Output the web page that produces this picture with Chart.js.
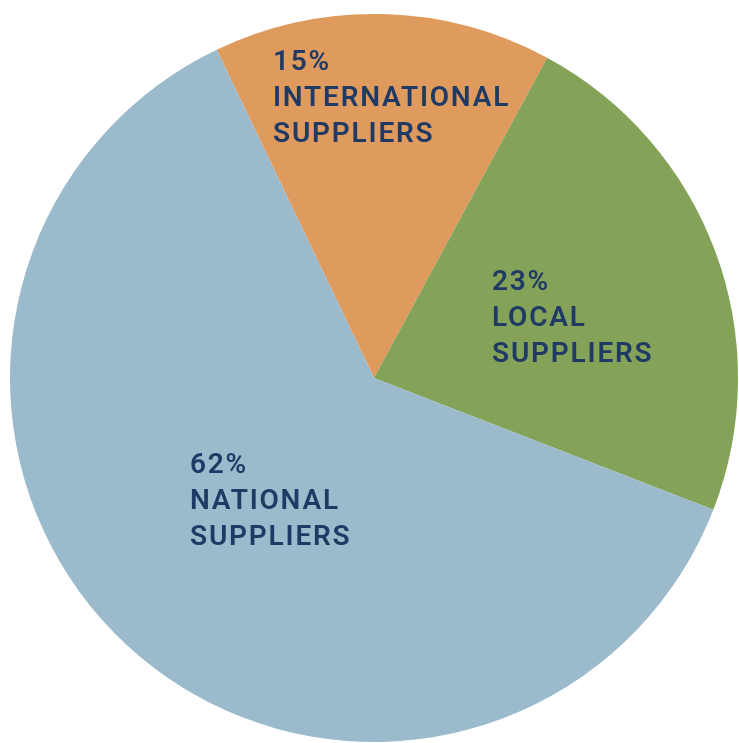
<!DOCTYPE html>
<html>
<head>
<meta charset="utf-8">
<script src="https://cdn.jsdelivr.net/npm/chart.js@4"></script>
<style>
    html, body {
        margin: 0;
        padding: 0;
        background: #ffffff;
    }
    #wrap {
        width: 739px;
        height: 743px;
        position: relative;
    }
</style>
</head>
<body>
<div id="wrap">
    <canvas id="pieChart" width="739" height="743"></canvas>
</div>
<script>

const categories =
    ['INTERNATIONAL SUPPLIERS', 'LOCAL SUPPLIERS', 'NATIONAL SUPPLIERS'];

const shares =
    [15, 23, 62];

const labelLines =
    [
        ['15%', 'INTERNATIONAL', 'SUPPLIERS'],
        ['23%', 'LOCAL', 'SUPPLIERS'],
        ['62%', 'NATIONAL', 'SUPPLIERS']
    ];

// where each label block starts (left x, first line centre y)
const labelAnchors =
    [
        { x: 273, y: 63 },
        { x: 492, y: 283 },
        { x: 190, y: 466 }
    ];

const sliceLabels = {

    id: 'sliceLabels',

    afterDatasetsDraw(chart) {

        const ctx =
            chart.ctx;

        ctx.save();
        ctx.fillStyle = '#1f3a64';
        ctx.font = '600 28px Roboto';
        ctx.textAlign = 'left';
        ctx.textBaseline = 'middle';

        if (ctx.letterSpacing !== undefined) {
            ctx.letterSpacing = '1.8px';
        }

        labelLines.forEach((lines, i) => {
            lines.forEach((line, j) => {
                ctx.fillText(
                    line,
                    labelAnchors[i].x,
                    labelAnchors[i].y + j * 36
                );
            });
        });

        ctx.restore();

    }

};

new Chart(document.getElementById('pieChart'), {

    type: 'pie',

    data: {

        labels: categories,

        datasets: [{
            data: shares,
            backgroundColor: [
                '#df9a5e',
                '#84a258',
                '#9bbbcc'
            ],
            borderWidth: 0
        }]

    },

    options: {

        responsive: false,

        animation: false,

        rotation: -25.6,

        layout: {
            padding: {
                left: 10,
                right: 1,
                top: 14,
                bottom: 1
            }
        },

        plugins: {
            legend: {
                display: false
            },
            tooltip: {
                enabled: false
            }
        }

    },

    plugins: [sliceLabels]

});

</script>
</body>
</html>
